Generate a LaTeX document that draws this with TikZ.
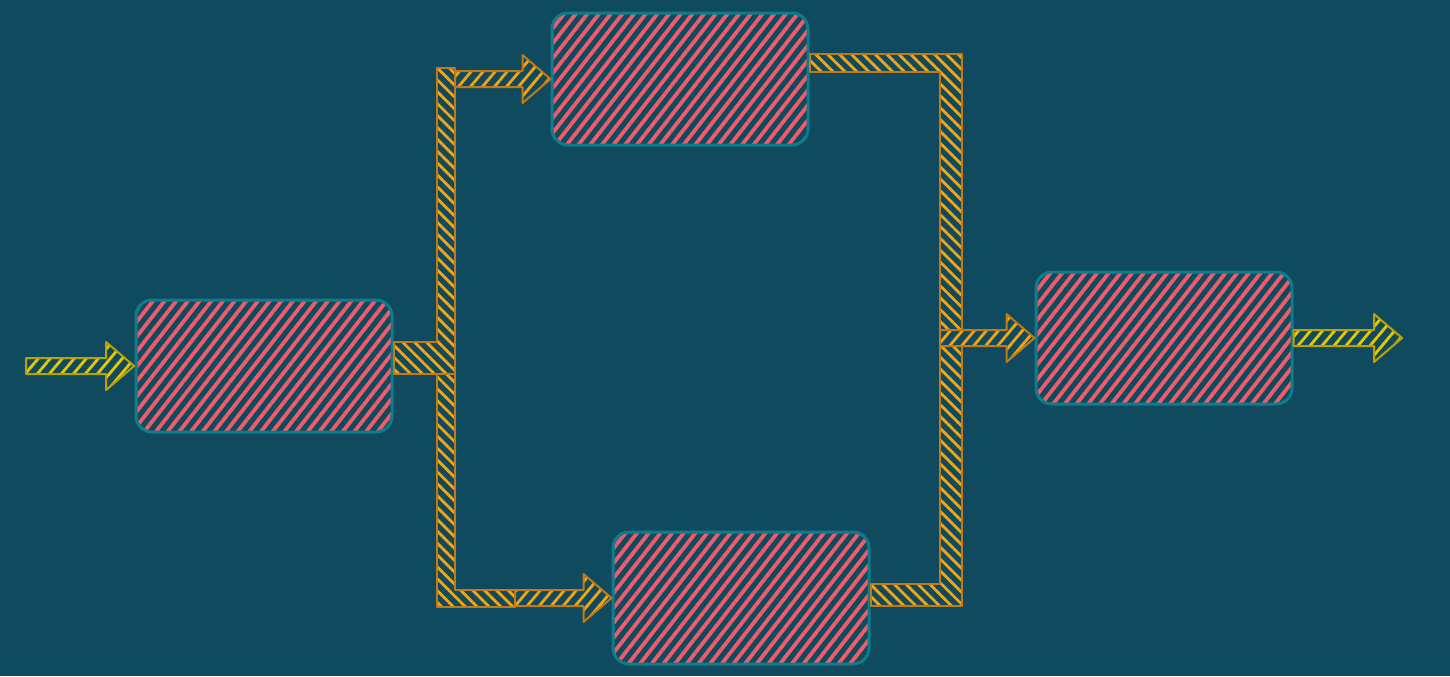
\documentclass[tikz,border=0pt]{standalone}
\usepackage{tikz}
\usepackage{xcolor}
\usetikzlibrary{calc,patterns.meta}

\definecolor{bgteal}{HTML}{0F4A5E}
\definecolor{boxred}{HTML}{F25C6A}
\definecolor{boxline}{HTML}{0C7D8C}
\definecolor{ohatch}{HTML}{F5A514}
\definecolor{oline}{HTML}{C47A14}
\definecolor{yhatch}{HTML}{E8C800}
\definecolor{yline}{HTML}{BCA200}

\tikzset{
  box/.style={draw=boxline, line width=1.5pt, rounded corners=8pt, minimum width=128pt, minimum height=66pt, inner sep=0pt,
    pattern={Lines[angle=52,distance=4.6pt,line width=1.9pt]}, pattern color=boxred},
  yarrow/.style={draw=yline, line width=1pt, line join=round,
    pattern={Lines[angle=50,distance=4.6pt,line width=1.4pt]}, pattern color=yhatch},
  oband/.style={draw=oline, line width=1pt, line join=round,
    pattern={Lines[angle=-45,distance=4.2pt,line width=1.4pt]}, pattern color=ohatch},
  oarrow/.style={draw=oline, line width=1pt, line join=round,
    pattern={Lines[angle=50,distance=4.6pt,line width=1.4pt]}, pattern color=ohatch}
}

% fat arrow from #2 to tip #3
\newcommand{\fatarrow}[3][]{%
  \filldraw[#1] ($(#2)+(0,-8)$) -- ($(#3)+(-28,-8)$) -- ($(#3)+(-28,-24)$) -- (#3)
    -- ($(#3)+(-28,24)$) -- ($(#3)+(-28,8)$) -- ($(#2)+(0,8)$) -- cycle;}

\begin{document}
\begin{tikzpicture}[x=0.5pt,y=-0.5pt]
\useasboundingbox (0,0) rectangle (1450,676);
\fill[bgteal] (0,0) rectangle (1450,676);

\node[box] (feed) at (264,366) {};
\node[box] (upper) at (680,79) {};
\node[box] (lower) at (741,598) {};
\node[box] (merge) at (1164,338) {};

\coordinate (src) at (26,366);
\coordinate (sink) at (1402,338);
\coordinate (split) at (446,358);
\coordinate (join) at (951,338);

% input and output
\fatarrow[yarrow]{src}{feed.west}
\fatarrow[yarrow]{merge.east}{sink}

% split to upper and lower
\filldraw[oband] ($(feed.east|-split)+(0,-16)$) -- ($(split)+(-9,-16)$) -- ($(split|-upper.west)+(-9,-11)$)
  -- ($(split|-upper.west)+(9,-11)$) -- ($(split)+(9,16)$) -- ($(feed.east|-split)+(0,16)$) -- cycle;
\coordinate (topfrom) at ($(split|-upper.west)+(9,0)$);
\fatarrow[oarrow]{topfrom}{upper.west}
\coordinate (lowfrom) at ($(split|-lower.west)+(69,0)$);
\filldraw[oband] ($(split)+(-9,16)$) -- ($(split)+(9,16)$) -- ($(split|-lower.west)+(9,-8)$) -- ($(lowfrom)+(0,-8)$)
  -- ($(lowfrom)+(0,9)$) -- ($(split|-lower.west)+(-9,9)$) -- cycle;
\fatarrow[oarrow]{lowfrom}{lower.west}

% join to merge
\coordinate (ustub) at ($(upper.east)+(0,-16)$);
\filldraw[oband] ($(ustub)+(0,-9)$) -- ($(join|-ustub)+(11,-9)$) -- ($(join)+(11,-8)$) -- ($(join)+(-11,-8)$)
  -- ($(join|-ustub)+(-11,9)$) -- ($(ustub)+(0,9)$) -- cycle;
\coordinate (lstub) at ($(lower.east)+(0,-3)$);
\filldraw[oband] ($(lstub)+(0,-11)$) -- ($(join|-lstub)+(-11,-11)$) -- ($(join)+(-11,8)$) -- ($(join)+(11,8)$)
  -- ($(join|-lstub)+(11,11)$) -- ($(lstub)+(0,11)$) -- cycle;
\coordinate (jfrom) at ($(join)+(-11,0)$);
\fatarrow[oarrow]{jfrom}{merge.west}
\end{tikzpicture}
\end{document}
